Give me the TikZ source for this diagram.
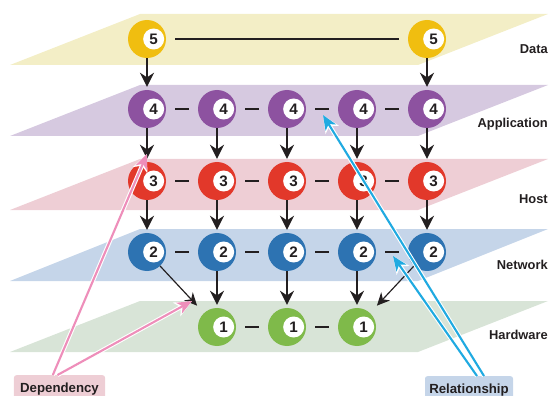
\documentclass[tikz,border=0pt]{standalone}
\usepackage{fontspec}
\setmainfont{Liberation Sans}
\usetikzlibrary{arrows.meta}
\definecolor{Y}{RGB}{240,190,16}
\definecolor{Yc}{RGB}{243,238,198}
\definecolor{P}{RGB}{141,82,160}
\definecolor{Pc}{RGB}{214,201,224}
\definecolor{R}{RGB}{226,56,42}
\definecolor{Rc}{RGB}{238,206,213}
\definecolor{B}{RGB}{45,115,178}
\definecolor{Bc}{RGB}{197,213,233}
\definecolor{G}{RGB}{127,186,74}
\definecolor{Gc}{RGB}{216,228,215}
\definecolor{Rosa}{RGB}{238,142,186}
\definecolor{Cian}{RGB}{32,170,225}
\definecolor{T}{RGB}{35,31,32}
\tikzset{
  bola/.style 2 args={circle, fill=#1, minimum size=1.14cm, inner sep=0pt, label={[core]center:#2}},
  core/.style={circle, fill=white, minimum size=0.63cm, inner sep=0pt, xshift=0.2cm, text=T, font=\fontsize{13}{13}\selectfont\bfseries},
  guion/.style={draw=T, line width=0.06cm, shorten <=0.27cm, shorten >=0.27cm},
  flecha/.style={draw=T, line width=1.5pt, shorten >=0.09cm, -{Stealth[length=0.42cm, width=0.42cm, inset=0.14cm]}},
  diagonal/.style={draw=T, line width=1pt, shorten >=0.3cm, -{Stealth[length=0.38cm, width=0.36cm, inset=0.12cm]}},
  capa/.style={font=\fontsize{11}{13}\selectfont\bfseries, text=T, inner sep=0pt, anchor=base east},
  caja/.style={rounded corners=2pt, minimum height=0.84cm, inner sep=0pt, anchor=north, text=T, font=\fontsize{11.3}{13}\selectfont\bfseries},
  dependencia/.style={draw=Rosa, line width=1.8pt, -{Stealth[length=0.44cm, width=0.36cm, inset=0.12cm]},
    preaction={draw=white, line width=3.6pt, -{Stealth[length=0.52cm, width=0.46cm, inset=0.14cm]}}},
  relacion/.style={draw=Cian, line width=1.8pt, -{Stealth[length=0.44cm, width=0.36cm, inset=0.12cm]},
    preaction={draw=white, line width=3.6pt, -{Stealth[length=0.52cm, width=0.46cm, inset=0.14cm]}}}
}
\begin{document}
\begin{tikzpicture}[x=0.03cm, y=-0.03cm]
  \useasboundingbox (0,0) rectangle (551,396);
  \clip (0,0) rectangle (551,396);

  %# PLANOS
  \fill[Yc] (140,14) -- (548,14) -- (418,65) -- (10,65) -- cycle;
  \fill[Pc] (140,85) -- (548,85) -- (418,136) -- (10,136) -- cycle;
  \fill[Rc] (140,159) -- (548,159) -- (418,210) -- (10,210) -- cycle;
  \fill[Bc] (140,229) -- (548,229) -- (418,281) -- (10,281) -- cycle;
  \fill[Gc] (140,301) -- (548,301) -- (418,352) -- (10,352) -- cycle;

  %# NOMBRES DE LOS PLANOS
  \node[capa] (tDat) at (548,54) {Data};
  \node[capa] (tApp) at (548,128) {Application};
  \node[capa] (tHos) at (548,203) {Host};
  \node[capa] (tNet) at (548,269) {Network};
  \node[capa] (tHar) at (548,339) {Hardware};

  %# NODOS
  \node[bola={Y}{5}] (dat1) at (147,39) {};
  \node[bola={Y}{5}] (dat5) at (427,39) {};

  \node[bola={P}{4}] (app1) at (147,109) {};
  \node[bola={P}{4}] (app2) at (217,109) {};
  \node[bola={P}{4}] (app3) at (287,109) {};
  \node[bola={P}{4}] (app4) at (357,109) {};
  \node[bola={P}{4}] (app5) at (427,109) {};

  \node[bola={R}{3}] (hos1) at (147,181) {};
  \node[bola={R}{3}] (hos2) at (217,181) {};
  \node[bola={R}{3}] (hos3) at (287,181) {};
  \node[bola={R}{3}] (hos4) at (357,181) {};
  \node[bola={R}{3}] (hos5) at (427,181) {};

  \node[bola={B}{2}] (net1) at (147,252) {};
  \node[bola={B}{2}] (net2) at (217,252) {};
  \node[bola={B}{2}] (net3) at (287,252) {};
  \node[bola={B}{2}] (net4) at (357,252) {};
  \node[bola={B}{2}] (net5) at (427,252) {};

  \node[bola={G}{1}] (har2) at (217,327) {};
  \node[bola={G}{1}] (har3) at (287,327) {};
  \node[bola={G}{1}] (har4) at (357,327) {};

  %# GUIONES
  \draw[guion] (dat1) -- (dat5);
  \draw[guion] (app1) -- (app2);
  \draw[guion] (app2) -- (app3);
  \draw[guion] (app3) -- (app4);
  \draw[guion] (app4) -- (app5);
  \draw[guion] (hos1) -- (hos2);
  \draw[guion] (hos2) -- (hos3);
  \draw[guion] (hos3) -- (hos4);
  \draw[guion] (hos4) -- (hos5);
  \draw[guion] (net1) -- (net2);
  \draw[guion] (net2) -- (net3);
  \draw[guion] (net3) -- (net4);
  \draw[guion] (net4) -- (net5);
  \draw[guion] (har2) -- (har3);
  \draw[guion] (har3) -- (har4);

  %# FLECHAS
  \draw[flecha] (dat1) -- (app1);
  \draw[flecha] (dat5) -- (app5);
  \draw[flecha] (app1) -- (hos1);
  \draw[flecha] (app2) -- (hos2);
  \draw[flecha] (app3) -- (hos3);
  \draw[flecha] (app4) -- (hos4);
  \draw[flecha] (app5) -- (hos5);
  \draw[flecha] (hos1) -- (net1);
  \draw[flecha] (hos2) -- (net2);
  \draw[flecha] (hos3) -- (net3);
  \draw[flecha] (hos4) -- (net4);
  \draw[flecha] (hos5) -- (net5);
  \draw[flecha] (net2) -- (har2);
  \draw[flecha] (net3) -- (har3);
  \draw[flecha] (net4) -- (har4);
  \draw[diagonal] (net1) -- (har2);
  \draw[diagonal] (net5) -- (har4);

  %# CAJAS
  \node[caja, fill=Rc, minimum width=2.73cm] (dep) at (59.5,375) {Dependency};
  \node[caja, fill=Bc, minimum width=2.64cm] (rel) at (469,376) {Relationship};

  %# DEPENDENCIA Y RELACION
  \coordinate (pd1) at (147,154);
  \coordinate (pd2) at (192,301);
  \coordinate (pr1) at (323,115);
  \coordinate (pr2) at (393,256);
  \draw[dependencia] ([xshift=-0.2cm]dep.north) -- (pd1);
  \draw[dependencia] ([xshift=-0.06cm]dep.north) -- (pd2);
  \draw[relacion] ([xshift=0.45cm]rel.north) -- (pr1);
  \draw[relacion] ([xshift=0.24cm]rel.north) -- (pr2);
\end{tikzpicture}
\end{document}
